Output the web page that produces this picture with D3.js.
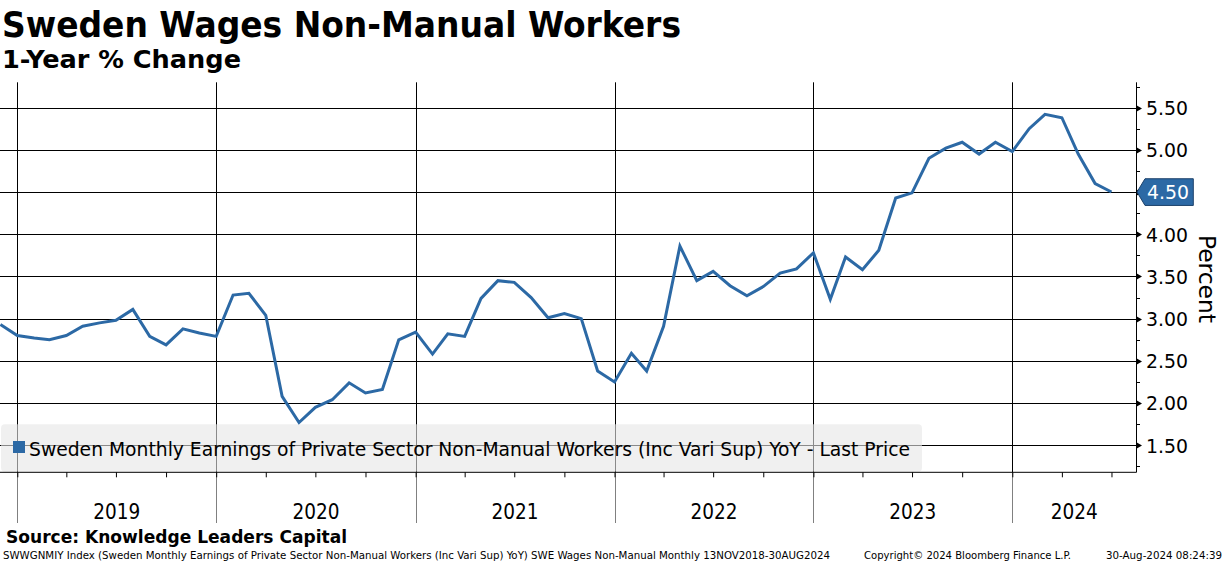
<!DOCTYPE html>
<html><head><meta charset="utf-8">
<script src="https://cdn.jsdelivr.net/npm/d3@7"></script>
<style>
body{margin:0;background:#fff;}
svg{display:block;}
text{font-family:"DejaVu Sans Condensed","DejaVu Sans",sans-serif;fill:#000;}
</style>
</head><body>
<svg id="c" width="1224" height="565"></svg>
<script>
// ---- data ----
const firstMonth = [2018, 10]; // Nov 2018 (year, 0-based month)
const values = [
  2.93, 2.80,
  2.77, 2.75, 2.80, 2.91, 2.95, 2.98, 3.11, 2.79, 2.69, 2.88, 2.83, 2.79,
  3.28, 3.30, 3.04, 2.08, 1.77, 1.95, 2.04, 2.24, 2.12, 2.16, 2.75, 2.84,
  2.58, 2.82, 2.79, 3.24, 3.45, 3.43, 3.25, 3.01, 3.06, 3.00, 2.38, 2.25,
  2.59, 2.38, 2.91, 3.86, 3.45, 3.56, 3.39, 3.27, 3.38, 3.54, 3.59, 3.78,
  3.23, 3.73, 3.58, 3.81, 4.43, 4.49, 4.90, 5.02, 5.09, 4.95, 5.09, 4.98,
  5.25, 5.42, 5.38, 4.95, 4.60, 4.50
];
const yTicks = [1.5, 2.0, 2.5, 3.0, 3.5, 4.0, 4.5, 5.0, 5.5];
const yMinorTicks = [1.25, 1.75, 2.25, 2.75, 3.25, 3.75, 4.25, 4.75, 5.25, 5.75];
const years = [2019, 2020, 2021, 2022, 2023, 2024];
const title = "Sweden Wages Non-Manual Workers";
const subtitle = "1-Year % Change";
const seriesName = "Sweden Monthly Earnings of Private Sector Non-Manual Workers (Inc Vari Sup) YoY - Last Price";
const yLabel = "Percent";
const source = "Source: Knowledge Leaders Capital";
const footLeft = "SWWGNMIY Index (Sweden Monthly Earnings of Private Sector Non-Manual Workers (Inc Vari Sup) YoY) SWE Wages Non-Manual  Monthly 13NOV2018-30AUG2024";
const footMid = "Copyright\u00A9 2024 Bloomberg Finance L.P.";
const footRight = "30-Aug-2024 08:24:39";

// ---- layout ----
const plotL = 0, plotR = 1136, plotT = 82.3, plotB = 472.3;
const blue = "#2c69a5";
const svg = d3.select("#c");

const dates = values.map((v, i) => new Date(Date.UTC(firstMonth[0], firstMonth[1] + i + 1, 1))); // month-end
const x = d3.scaleUtc().domain([new Date(Date.UTC(2019,0,1)), new Date(Date.UTC(2024,0,1))]).range([17.3, 1012.3]);
const y = d3.scaleLinear().domain([1.18, 5.80]).range([plotB, plotT]);

function fit(sel, w) { sel.attr("textLength", w).attr("lengthAdjust", "spacingAndGlyphs"); return sel; }

// horizontal gridlines
svg.append("g").selectAll("line").data(yTicks).join("line")
  .attr("x1", plotL).attr("x2", plotR)
  .attr("y1", d => Math.round(y(d)) + 0.5).attr("y2", d => Math.round(y(d)) + 0.5)
  .attr("stroke", "#000").attr("stroke-width", 1);

// vertical year gridlines (plot) and separators (below axis)
const yearStarts = years.map(yr => new Date(Date.UTC(yr, 0, 1)));
svg.append("g").selectAll("line").data(yearStarts).join("line")
  .attr("x1", d => Math.round(x(d)) + 0.5).attr("x2", d => Math.round(x(d)) + 0.5)
  .attr("y1", plotT).attr("y2", plotB)
  .attr("stroke", "#000").attr("stroke-width", 1);
svg.append("g").selectAll("line").data(yearStarts).join("line")
  .attr("x1", d => Math.round(x(d)) + 0.5).attr("x2", d => Math.round(x(d)) + 0.5)
  .attr("y1", plotB).attr("y2", 523)
  .attr("stroke", "#808080").attr("stroke-width", 1);

// legend box (semi-transparent)
const lg = svg.append("g");
lg.append("rect").attr("x", 1).attr("y", 424.3).attr("width", 921).attr("height", 47.4).attr("rx", 4)
  .attr("fill", "#e6e6e6").attr("fill-opacity", 0.6);
lg.append("rect").attr("x", 13).attr("y", 441).attr("width", 12).attr("height", 12).attr("fill", blue);
fit(lg.append("text").attr("x", 29).attr("y", 456).attr("font-size", 20).text(seriesName), 881);

// line
const line = d3.line().x((d, i) => x(dates[i])).y(d => y(d));
svg.append("path").datum(values).attr("d", line)
  .attr("fill", "none").attr("stroke", blue).attr("stroke-width", 3)
  .attr("stroke-linejoin", "miter").attr("stroke-linecap", "butt");

// bottom axis
const qTicks = d3.utcMonth.every(3).range(new Date(Date.UTC(2019,0,1)), new Date(Date.UTC(2024,7,1)));
const xAxis = svg.append("g").attr("transform", `translate(0,${plotB})`)
  .call(d3.axisBottom(x).tickValues(qTicks).tickSize(5).tickFormat(""));
xAxis.select(".domain").remove();
xAxis.selectAll(".tick line").attr("stroke", "#000");
svg.append("line").attr("x1", plotL).attr("x2", plotR + 0.5).attr("y1", plotB).attr("y2", plotB)
  .attr("stroke", "#000").attr("stroke-width", 1);

// year labels
svg.append("g").selectAll("text").data(years).join("text")
  .attr("x", yr => {
    const a = Math.max(plotL, x(new Date(Date.UTC(yr,0,1))));
    const b = Math.min(plotR, x(new Date(Date.UTC(yr+1,0,1))));
    return (a + b) / 2;
  })
  .attr("y", 519).attr("text-anchor", "middle").attr("font-size", 21)
  .text(d => d)
  .each(function() { fit(d3.select(this), 47); });

// right axis
svg.append("line").attr("x1", plotR + 0.5).attr("x2", plotR + 0.5).attr("y1", plotT).attr("y2", plotB)
  .attr("stroke", "#000").attr("stroke-width", 1);
svg.append("g").selectAll("line").data(yMinorTicks).join("line")
  .attr("x1", plotR).attr("x2", plotR + 4)
  .attr("y1", d => Math.round(y(d)) + 0.5).attr("y2", d => Math.round(y(d)) + 0.5)
  .attr("stroke", "#000");
svg.append("g").selectAll("path").data(yTicks).join("path")
  .attr("d", d => { const yy = Math.round(y(d)) + 0.5; return `M${plotR},${yy-3.5}L${plotR+6},${yy}L${plotR},${yy+3.5}Z`; })
  .attr("fill", "#000");
const yAxis = svg.append("g").attr("transform", `translate(${plotR},0)`)
  .call(d3.axisRight(y).tickValues(yTicks).tickSize(0).tickPadding(10).tickFormat(d3.format(".2f")));
yAxis.select(".domain").remove();
yAxis.selectAll("text").attr("font-size", 19).attr("font-family", null).attr("fill", "#000").attr("dy", "0.36em")
  .each(function() { fit(d3.select(this), 42); });

// last price box
const last = values[values.length - 1];
const ly = y(last);
const lb = svg.append("g");
lb.append("path")
  .attr("d", `M${plotR+1},${ly}L${plotR+9},${ly-13.3}L${plotR+57.3},${ly-13.3}L${plotR+57.3},${ly+13.4}L${plotR+9},${ly+13.4}Z`)
  .attr("fill", blue).attr("stroke", "#1d426b").attr("stroke-width", 1);
fit(lb.append("text").attr("x", plotR + 11).attr("y", ly + 7).attr("font-size", 19)
  .style("fill", "#fff").text(d3.format(".2f")(last)), 42);

// y label
fit(svg.append("text").attr("transform", `translate(1199,279) rotate(90)`)
  .attr("text-anchor", "middle").attr("font-size", 23).text(yLabel), 88);

// titles
fit(svg.append("text").attr("x", 2).attr("y", 37).attr("font-size", 36).attr("font-weight", "bold").text(title), 679);
fit(svg.append("text").attr("x", 2).attr("y", 68).attr("font-size", 25).attr("font-weight", "bold").text(subtitle), 239);

// footer
fit(svg.append("text").attr("x", 6).attr("y", 543).attr("font-size", 18).attr("font-weight", "bold").text(source), 341);
fit(svg.append("text").attr("x", 3).attr("y", 559).attr("font-size", 10.5).text(footLeft), 827);
fit(svg.append("text").attr("x", 864).attr("y", 559).attr("font-size", 10.5).text(footMid), 207);
fit(svg.append("text").attr("x", 1106).attr("y", 559).attr("font-size", 10.5).text(footRight), 116);
</script>
</body></html>
